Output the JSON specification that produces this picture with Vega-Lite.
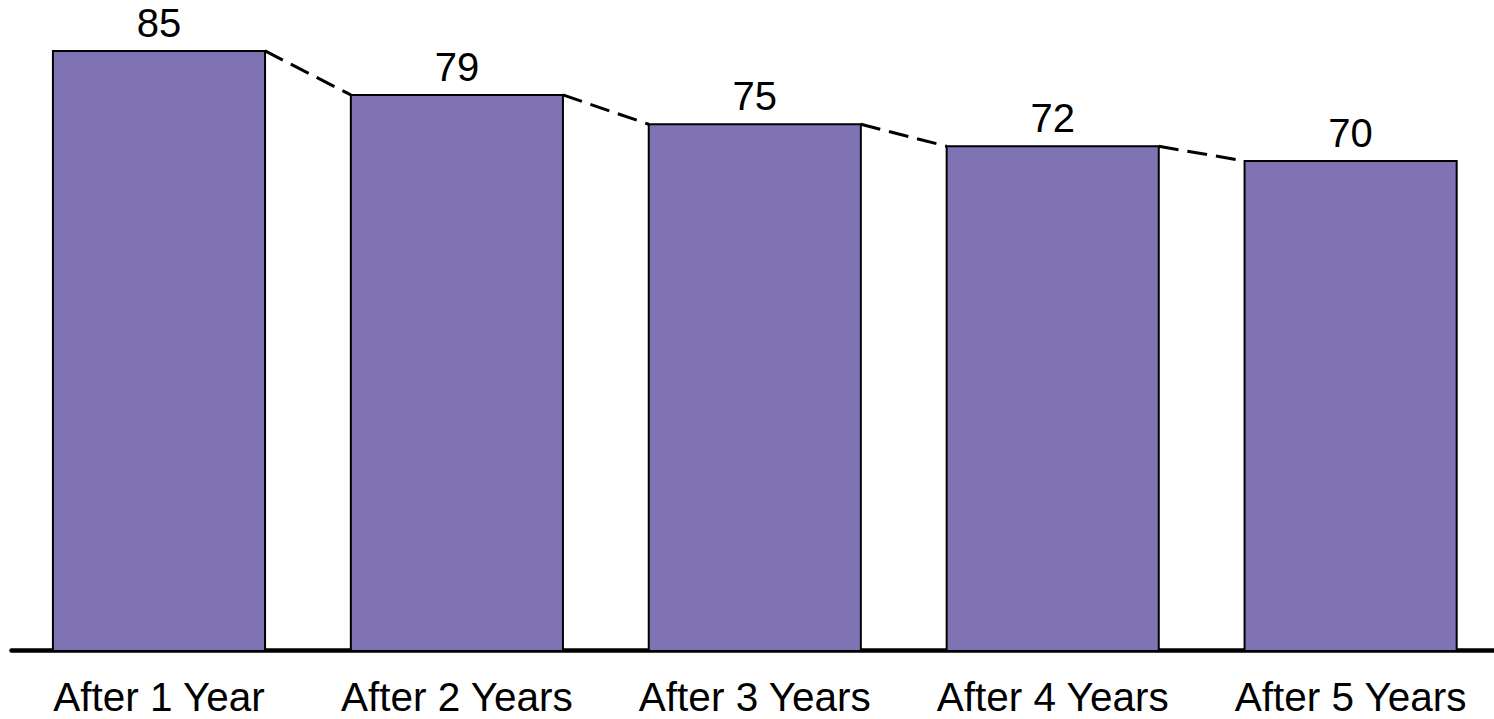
{
  "$schema": "https://vega.github.io/schema/vega-lite/v6.json",
  "width": 1483,
  "height": 650,
  "autosize": "none",
  "padding": {"left": 11, "top": 0, "right": 0, "bottom": 69},
  "background": "white",
  "config": {"view": {"stroke": null}},
  "datasets": {
    "bars": [
      {"period": "After 1 Year", "value": 85},
      {"period": "After 2 Years", "value": 79},
      {"period": "After 3 Years", "value": 75},
      {"period": "After 4 Years", "value": 72},
      {"period": "After 5 Years", "value": 70}
    ],
    "segs": [
      {"from": "After 1 Year", "to": "After 2 Years", "v1": 85, "v2": 79},
      {"from": "After 2 Years", "to": "After 3 Years", "v1": 79, "v2": 75},
      {"from": "After 3 Years", "to": "After 4 Years", "v1": 75, "v2": 72},
      {"from": "After 4 Years", "to": "After 5 Years", "v1": 72, "v2": 70}
    ]
  },
  "layer": [
    {
      "data": {"name": "bars"},
      "mark": {"type": "bar", "fill": "#8073B4", "stroke": "black", "strokeWidth": 2, "clip": true},
      "encoding": {
        "x": {
          "field": "period", "type": "nominal",
          "scale": {"domain": ["After 1 Year", "After 2 Years", "After 3 Years", "After 4 Years", "After 5 Years"], "paddingInner": 0.288, "paddingOuter": 0.133, "align": 0.529},
          "axis": {"title": null, "labelAngle": 0, "ticks": false, "tickSize": 0, "domainWidth": 4.5, "domainColor": "black", "domainCap": "round", "labelFont": "Liberation Sans", "labelFontSize": 40.5, "labelColor": "black", "labelBaseline": "alphabetic", "labelPadding": 60, "labelLimit": 0, "labelOverlap": false}
        },
        "y": {"field": "value", "type": "quantitative", "scale": {"domain": [3.3, 91.95], "zero": false, "nice": false}, "axis": null}
      }
    },
    {
      "data": {"name": "bars"},
      "mark": {"type": "text", "dy": -14, "baseline": "alphabetic", "fontSize": 40, "font": "Liberation Sans", "color": "black"},
      "encoding": {
        "x": {"field": "period", "type": "nominal"},
        "y": {"field": "value", "type": "quantitative"},
        "text": {"field": "value", "type": "quantitative"}
      }
    },
    {
      "data": {"name": "segs"},
      "mark": {"type": "rule", "strokeDash": [20, 9], "strokeWidth": 3, "color": "black"},
      "encoding": {
        "x": {"field": "from", "type": "nominal", "bandPosition": 1},
        "x2": {"field": "to", "bandPosition": 0},
        "y": {"field": "v1", "type": "quantitative"},
        "y2": {"field": "v2"}
      }
    }
  ]
}
